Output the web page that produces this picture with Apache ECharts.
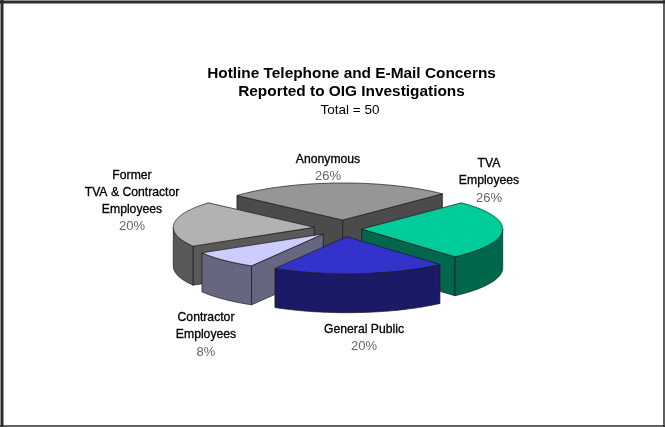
<!DOCTYPE html>
<html>
<head>
<meta charset="utf-8">
<style>html,body{margin:0;padding:0;background:#fff}#chart{width:665px;height:427px}</style>
<script src="https://cdn.jsdelivr.net/npm/echarts@6/dist/echarts.min.js"></script>
</head>
<body>
<div id="chart"></div>
<script>
// Concerns by source, listed clockwise from the upper right of the pie.
const categories = ['TVA\nEmployees', 'General Public', 'Contractor\nEmployees', 'Former\nTVA & Contractor\nEmployees', 'Anonymous'];
const shares = [26, 20, 8, 20, 26];
const titleLines = ['Hotline Telephone and E-Mail Concerns', 'Reported to OIG Investigations'];
const subtitle = 'Total = 50';

// Appearance and placement of the exploded pie.
const topColors = ['#00CC99', '#3333CC', '#CCCCFF', '#B2B2B2', '#969696'];
const sideColors = ['#00664C', '#1A1A66', '#666680', '#595959', '#4B4B4B'];
const sliceApex = [[361.7, 229], [346.7, 236.7], [323.3, 234], [314.3, 227.3], [342.7, 220]];
const labelCentres = [[489, 181], [364, 338], [206, 335], [132, 201], [328, 168]];
const RX = 141, RY = 37, DEPTH = 39, START_DEG = 45;

const rad = d => d * Math.PI / 180;

function renderSlice(params, api) {
  const i = params.dataIndex;
  const before = shares.slice(0, i).reduce((a, b) => a + b, 0);
  const total = shares.reduce((a, b) => a + b, 0);
  const t0 = START_DEG - before / total * 360;
  const t1 = t0 - api.value(0) / total * 360;
  const [ax, ay] = sliceApex[i];
  const rim = t => [ax + RX * Math.cos(rad(t)), ay - RY * Math.sin(rad(t))];
  const drop = p => [p[0], p[1] + DEPTH];

  // Walk the rim clockwise, one degree at a time.
  const arc = [];
  for (let t = t0; t > t1; t -= 1) arc.push(t);
  arc.push(t1);

  // Front slices paint over the ones behind them.
  const mid = (t0 + t1) / 2;
  const z2 = Math.round((1 - Math.sin(rad(mid))) * 10);
  const children = [];
  const line = { stroke: '#1a1a1a', lineWidth: 0.7, lineJoin: 'round' };
  const face = (pts, fill, order) => children.push({
    type: 'polygon', z2: z2 + order, shape: { points: pts }, style: Object.assign({ fill }, line)
  });

  // Cut walls that turn toward the viewer.
  const wall = (t) => {
    const a = [ax, ay], b = rim(t);
    face([a, b, drop(b), drop(a)], sideColors[i], 0);
  };
  if (Math.cos(rad(t0)) < 0) wall(t0);
  if (Math.cos(rad(t1)) > 0) wall(t1);

  // Outer wall: only the part of the rim on the near side.
  const near = arc.filter(t => Math.sin(rad(t)) <= 0);
  if (near.length > 1) {
    const upper = near.map(rim);
    face(upper.concat(upper.map(drop).reverse()), sideColors[i], 1);
  }

  // Top face.
  face([[ax, ay]].concat(arc.map(rim)), topColors[i], 2);

  // Label: category name above its percentage.
  const name = categories[i].split('\n').map(s => '{n|' + s + '}').join('\n');
  children.push({
    type: 'text', z2: 100,
    style: {
      x: labelCentres[i][0], y: labelCentres[i][1],
      text: name + '\n{p|' + api.value(0) + '%}',
      align: 'center', verticalAlign: 'middle',
      rich: {
        n: { fontFamily: 'Liberation Sans', fontSize: 12.2, lineHeight: 17, fill: '#000', stroke: '#000', lineWidth: 0.3, align: 'center' },
        p: { fontFamily: 'Liberation Sans', fontSize: 13, lineHeight: 17, fill: '#666', align: 'center' }
      }
    }
  });
  return { type: 'group', children };
}

// Page frame: heavier along the top and left edges.
const frameEdge = (x1, y1, x2, y2, w) => ({
  type: 'line', silent: true, z: 50,
  shape: { x1, y1, x2, y2 },
  style: { stroke: '#2b2b2b', lineWidth: w }
});

const chart = echarts.init(document.getElementById('chart'), null, { renderer: 'canvas' });
chart.setOption({
  animation: false,
  backgroundColor: '#fff',
  title: [
    { text: titleLines.join('\n'), left: 346.5, top: 60, textAlign: 'center',
      textStyle: { fontFamily: 'Liberation Sans', fontWeight: 'bold', fontSize: 15.4, lineHeight: 17.5, color: '#000' } },
    { text: subtitle, left: 345, top: 97, textAlign: 'center',
      textStyle: { fontFamily: 'Liberation Sans', fontWeight: 'normal', fontSize: 13.5, lineHeight: 17, color: '#000' } }
  ],
  graphic: [
    frameEdge(0, 2, 665, 2, 3),
    frameEdge(2, 0, 2, 427, 3),
    frameEdge(664, 0, 664, 427, 1.5),
    frameEdge(0, 426, 665, 426, 1.5)
  ],
  series: [{
    type: 'custom',
    coordinateSystem: 'none',
    renderItem: renderSlice,
    data: shares.map(v => [v]),
    silent: true
  }]
});
</script>
</body>
</html>
